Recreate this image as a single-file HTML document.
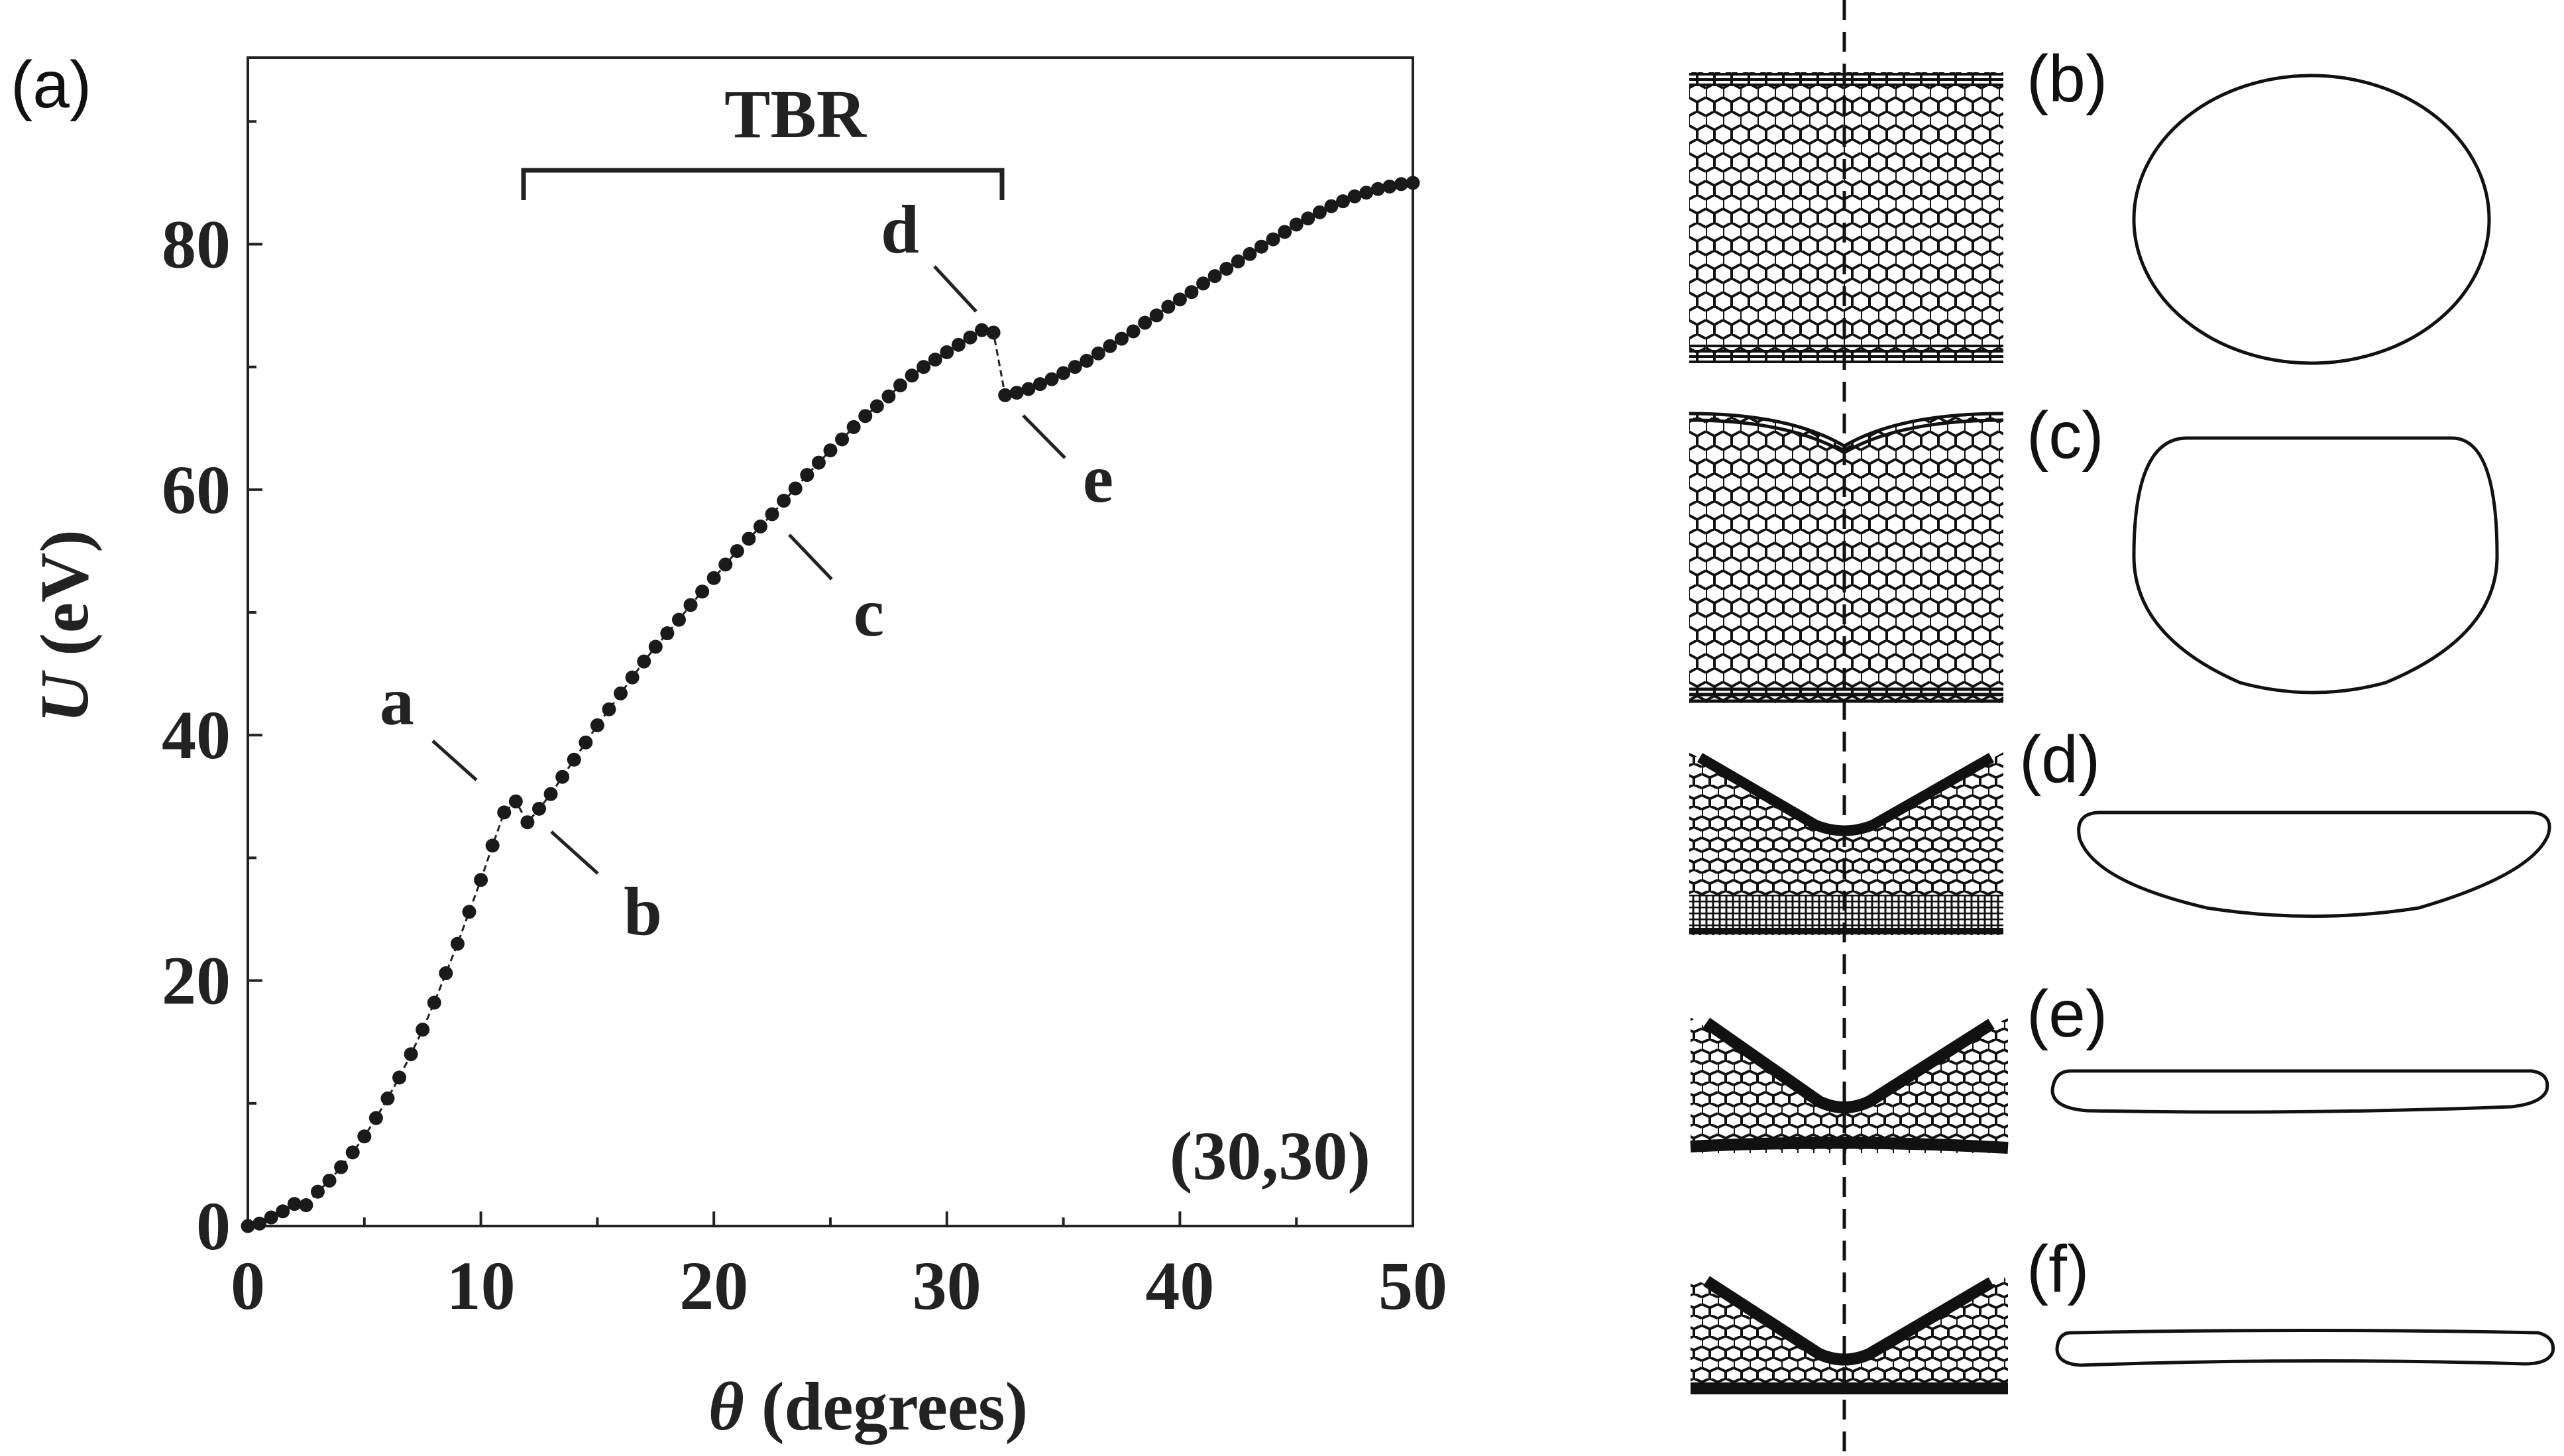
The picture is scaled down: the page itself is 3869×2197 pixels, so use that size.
<!DOCTYPE html>
<html><head><meta charset="utf-8"><style>
html,body{margin:0;padding:0;background:#fff}
svg{display:block}
.tk{font-family:"Liberation Serif",serif;font-weight:bold;font-size:104px;fill:#222}
.lb{font-family:"Liberation Sans",sans-serif;font-size:100px;fill:#111}
</style></head><body>
<svg id="fig" width="3869" height="2197" viewBox="0 0 3869 2197" xmlns="http://www.w3.org/2000/svg">
<defs>
<pattern id="hex" width="26" height="42" patternUnits="userSpaceOnUse">
<path d="M0,7 L13,0 L26,7 M0,7 V21 M0,21 L13,28 L26,21 M13,28 V42" fill="none" stroke="#111" stroke-width="4"/>
</pattern>
<pattern id="hexd" width="24" height="32" patternUnits="userSpaceOnUse">
<path d="M0,5.3 L12,0 L24,5.3 M0,5.3 V16 M0,16 L12,21.3 L24,16 M12,21.3 V32" fill="none" stroke="#111" stroke-width="4"/>
</pattern>
<pattern id="stripes" width="10" height="9" patternUnits="userSpaceOnUse">
<path d="M0,1 H10 M5,0 V9" stroke="#111" stroke-width="3"/>
</pattern>
</defs>
<g id="chart"></g>
<text class="lb" x="16" y="162" font-size="110">(a)</text>

<g>
<g>
<rect x="2549" y="109" width="474" height="439" fill="url(#hex)"/>
<path d="M2549,112 H3023 M2549,120 H3023 M2549,128 H3023 M2549,538 H3023 M2549,530 H3023 M2549,522 H3023 M2549,546 H3023" stroke="#111" stroke-width="4"/>
</g>
<g>
<path d="M2549,622 Q2700,622 2783,671 Q2866,622 3023,622 V1061 H2549Z" fill="url(#hex)"/>
<path d="M2549,624 Q2700,624 2783,673 Q2866,624 3023,624 M2549,634 Q2700,634 2783,683 Q2866,634 3023,634 M2549,1058 H3023 M2549,1048 H3023 M2549,1040 H3023" fill="none" stroke="#111" stroke-width="5"/>
</g>
<g>
<path d="M2549,1135 L2740,1245 Q2783,1262 2826,1245 L3023,1135 V1411 H2549Z" fill="url(#hexd)"/>
<path d="M2565,1143 L2740,1245 Q2783,1262 2826,1245 L3005,1143" fill="none" stroke="#111" stroke-width="16"/>
<rect x="2549" y="1350" width="474" height="61" fill="#fff"/>
<rect x="2549" y="1350" width="474" height="61" fill="url(#stripes)"/>
<path d="M2549,1405 H3023" stroke="#111" stroke-width="10"/>
</g>
<g>
<path d="M2551,1535 L2745,1662 Q2783,1680 2821,1662 L3030,1535 V1740 H2551Z" fill="url(#hexd)"/>
<path d="M2575,1543 L2745,1662 Q2783,1680 2821,1662 L3005,1545" fill="none" stroke="#111" stroke-width="18"/>
<path d="M2551,1730 Q2783,1718 3030,1732" fill="none" stroke="#111" stroke-width="18"/>
</g>
<g>
<path d="M2551,1925 L2745,2043 Q2783,2060 2821,2043 L3030,1925 V2102 H2551Z" fill="url(#hexd)"/>
<path d="M2575,1933 L2745,2043 Q2783,2060 2821,2043 L3005,1935" fill="none" stroke="#111" stroke-width="18"/>
<path d="M2551,2095 H3030" stroke="#111" stroke-width="18"/>
</g>
<line x1="2783" y1="0" x2="2783" y2="2197" stroke="#111" stroke-width="5" stroke-dasharray="30,18"/>
<text class="lb" x="3058" y="153">(b)</text>
<text class="lb" x="3058" y="691">(c)</text>
<text class="lb" x="3047" y="1180">(d)</text>
<text class="lb" x="3058" y="1564">(e)</text>
<text class="lb" x="3058" y="1949">(f)</text>
<ellipse cx="3488" cy="331" rx="268" ry="217" fill="none" stroke="#111" stroke-width="5"/>
<path d="M3300,661 H3700 Q3768,661 3768,839 Q3768,960 3600,1030 Q3490,1060 3380,1030 Q3220,960 3220,839 Q3220,661 3300,661Z" fill="none" stroke="#111" stroke-width="5"/>
<path d="M3170,1226 H3815 Q3855,1226 3845,1260 Q3820,1320 3650,1370 Q3490,1395 3330,1370 Q3160,1330 3138,1265 Q3130,1226 3170,1226Z" fill="none" stroke="#111" stroke-width="5"/>
<path d="M3125,1616 H3820 Q3848,1620 3843,1645 Q3835,1665 3790,1670 Q3480,1682 3150,1676 Q3097,1672 3097,1645 Q3100,1616 3125,1616Z" fill="none" stroke="#111" stroke-width="5"/>
<path d="M3125,2011 Q3480,2004 3830,2011 Q3856,2018 3852,2040 Q3845,2058 3810,2058 Q3480,2048 3140,2060 Q3104,2058 3104,2035 Q3106,2011 3125,2011Z" fill="none" stroke="#111" stroke-width="5"/>
</g>
</svg>
<script>
const thetaVals=[0,0.5,1,1.5,2,2.5,3,3.5,4,4.5,5,5.5,6,6.5,7,7.5,8,8.5,9,9.5,10,10.5,11,11.5,12,12.5,13,13.5,14,14.5,15,15.5,16,16.5,17,17.5,18,18.5,19,19.5,20,20.5,21,21.5,22,22.5,23,23.5,24,24.5,25,25.5,26,26.5,27,27.5,28,28.5,29,29.5,30,30.5,31,31.5,32,32.5,33,33.5,34,34.5,35,35.5,36,36.5,37,37.5,38,38.5,39,39.5,40,40.5,41,41.5,42,42.5,43,43.5,44,44.5,45,45.5,46,46.5,47,47.5,48,48.5,49,49.5,50];
const energyVals=[0,0.2,0.7,1.2,1.8,1.7,2.8,3.7,4.8,6.0,7.3,8.8,10.4,12.1,14.0,16.0,18.2,20.6,23.0,25.6,28.2,31.0,33.7,34.6,32.9,34.0,35.2,36.6,38.0,39.4,40.8,42.1,43.4,44.7,46.0,47.2,48.3,49.4,50.6,51.7,52.8,53.9,55.0,56.0,57.0,58.0,59.1,60.1,61.2,62.2,63.2,64.1,65.1,66.0,66.8,67.6,68.5,69.3,70.0,70.6,71.2,71.8,72.4,73.0,72.8,67.7,67.9,68.2,68.6,69.0,69.5,70.0,70.5,71.1,71.7,72.3,72.9,73.6,74.2,74.9,75.5,76.1,76.8,77.4,78.0,78.6,79.2,79.8,80.4,81.0,81.6,82.1,82.6,83.1,83.5,83.9,84.2,84.5,84.7,84.9,85.0];
const xTicks=[0,10,20,30,40,50];
const xMinor=[5,15,25,35,45];
const yTicks=[0,20,40,60,80];
const yMinor=[10,30,50,70,90];
const NS='http://www.w3.org/2000/svg';
const X0=374,X1=2132,Y0=1850,YT=87,XMAX=50,YMAX=95.2;
const sx=v=>X0+(X1-X0)*v/XMAX;
const sy=v=>Y0-(Y0-YT)*v/YMAX;
const g=document.getElementById('chart');
function mk(t,a,txt){const e=document.createElementNS(NS,t);for(const k in a)e.setAttribute(k,a[k]);if(txt!==undefined)e.textContent=txt;g.appendChild(e);return e;}
let e=mk('rect',{x:X0,y:YT,width:X1-X0,height:Y0-YT,fill:'none',stroke:'#222','stroke-width':4});


xTicks.forEach(v=>{let t=mk('line',{x1:sx(v),x2:sx(v),y1:Y0,y2:Y0-22,stroke:'#222','stroke-width':4});


let l=mk('text',{class:'tk',x:sx(v),y:1975,'text-anchor':'middle'},String(v));

});
xMinor.forEach(v=>{let t=mk('line',{x1:sx(v),x2:sx(v),y1:Y0,y2:Y0-13,stroke:'#222','stroke-width':4});

});
yTicks.forEach(v=>{let t=mk('line',{x1:X0,x2:X0+22,y1:sy(v),y2:sy(v),stroke:'#222','stroke-width':4});


let l=mk('text',{class:'tk',x:348,y:sy(v)+35,'text-anchor':'end'},String(v));

});
yMinor.forEach(v=>{let t=mk('line',{x1:X0,x2:X0+13,y1:sy(v),y2:sy(v),stroke:'#222','stroke-width':4});

});
let d=thetaVals.map((t,i)=>(i?'L':'M')+sx(t).toFixed(1)+','+sy(energyVals[i]).toFixed(1)).join(' ');
let ln=mk('path',{d:d,fill:'none',stroke:'#222','stroke-width':3,'stroke-dasharray':'10,6'});


thetaVals.forEach((t,i)=>{let c=mk('circle',{cx:sx(t),cy:sy(energyVals[i]),r:10.5,fill:'#1a1a1a'});

});
let xt=mk('text',{class:'tk',x:1310,y:2157,'text-anchor':'middle'});
xt.innerHTML='<tspan font-style="italic">θ</tspan> (degrees)';


let yt=mk('text',{class:'tk',x:0,y:0,'text-anchor':'middle',transform:'translate(132,945) rotate(-90)'});
yt.innerHTML='<tspan font-style="italic">U</tspan> (eV)';


let tb=mk('text',{class:'tk',x:1200,y:207,'text-anchor':'middle'},'TBR');


let br=mk('path',{d:'M790,302 V257 H1512 V302',fill:'none',stroke:'#222','stroke-width':7});


let idl=mk('text',{class:'tk',x:2068,y:1779,'text-anchor':'end'},'(30,30)');


const annLetters=['a','b','c','d','e'];
const annPos=[[599,1093],[970,1410],[1311,959],[1358,381],[1657,757]];
const annLines=[[653,1118,719,1177],[832,1255,902,1318],[1191,807,1255,874],[1410,402,1473,470],[1544,627,1607,691]];
annLetters.forEach((s,i)=>{let t=mk('text',{class:'tk',x:annPos[i][0],y:annPos[i][1],'text-anchor':'middle'},s);


const L=annLines[i];let l=mk('line',{x1:L[0],y1:L[1],x2:L[2],y2:L[3],stroke:'#222','stroke-width':5});

});
</script>
</body></html>
